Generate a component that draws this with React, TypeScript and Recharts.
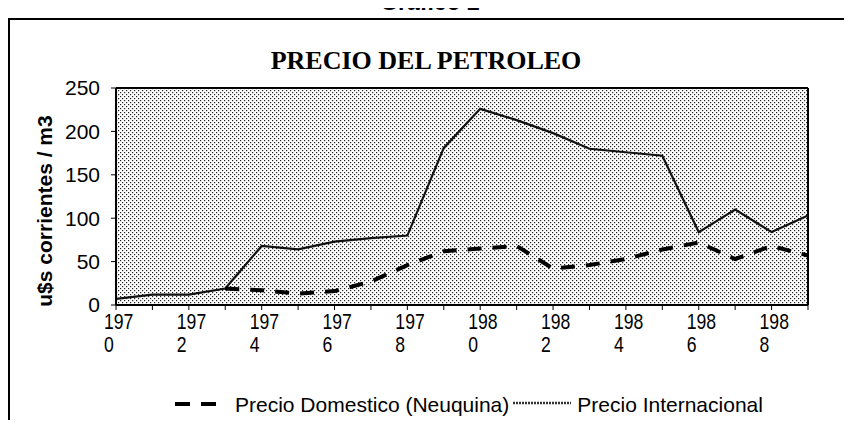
import React from 'react';
import { LineChart, Line, XAxis, YAxis, CartesianGrid, ReferenceLine } from 'recharts';

const years = ['1970','1971','1972','1973','1974','1975','1976','1977','1978','1979','1980','1981','1982','1983','1984','1985','1986','1987','1988','1989'];
const domestic = [null, null, null, 19, 17, 13, 16, 27, 46, 62, 65, 68, 42, 46, 53, 64, 72, 53, 68, 57];
const international = [7, 12, 12, 19, 68, 64, 73, 77, 80, 181, 226, 213, 198, 180, 176, 172, 84, 110, 84, 103];
const yTicks = [0, 50, 100, 150, 200, 250];

const data = years.map((y, i) => ({ year: y, domestic: domestic[i], international: international[i] }));

const SANS = '"Liberation Sans", Arial, sans-serif';

const XTick = (props: any) => {
  const { x, y, payload, index } = props;
  if (index % 2 !== 0) return null;
  const v = String(payload.value);
  return (
    <g transform={`translate(${x - 12},${y})`}>
      <g transform="scale(0.8,1)">
        <text x={0} y={17} textAnchor="start" fontSize={22} fontFamily={SANS} fill="#000">{v.slice(0, 3)}</text>
        <text x={0} y={40} textAnchor="start" fontSize={22} fontFamily={SANS} fill="#000">{v.slice(3)}</text>
      </g>
    </g>
  );
};

export default function App() {
  return (
    <div style={{ position: 'relative', width: 854, height: 428, margin: -8, overflow: 'hidden', background: '#fff' }}>
      <svg style={{ position: 'absolute', left: 0, top: 0 }} width={854} height={20}>
        <text x={430} y={10} textAnchor="middle" fontFamily={SANS} fontWeight="bold" fontSize={23} fill="#000">Gráfico 2</text>
      </svg>
      <div style={{ position: 'absolute', left: 8, top: 18, width: 836, height: 0, borderTop: '2px solid #000' }} />
      <div style={{ position: 'absolute', left: 8, top: 18, width: 0, height: 420, borderLeft: '2px solid #000' }} />
      <div style={{ position: 'absolute', left: 0, width: 852, top: 46, textAlign: 'center', fontFamily: '"Liberation Serif", "Times New Roman", serif', fontWeight: 'bold', fontSize: 26 }}>PRECIO DEL PETROLEO</div>
      <div style={{ position: 'absolute', left: 45, top: 211, transform: 'translate(-50%, -50%) rotate(-90deg)', whiteSpace: 'nowrap', fontFamily: SANS, fontWeight: 'bold', fontSize: 21 }}>u$s corrientes / m3</div>
      <div style={{ position: 'absolute', top: 0, left: 0 }}>
        <LineChart width={854} height={428} data={data} margin={{ top: 88, right: 46, bottom: 0, left: 0 }}>
          <defs>
            <pattern id="stipple" width="4" height="4" patternUnits="userSpaceOnUse">
              <rect width="4" height="4" fill="#ffffff" />
              <rect x="0" y="0" width="1.2" height="1.2" fill="#222" />
              <rect x="2" y="2" width="1.2" height="1.2" fill="#222" />
            </pattern>
          </defs>
          <CartesianGrid fill="url(#stipple)" horizontal={false} vertical={false} />
          <XAxis dataKey="year" interval={0} tick={<XTick />} height={123} tickSize={5}
            axisLine={{ stroke: '#000', strokeWidth: 2 }} tickLine={{ stroke: '#000' }} padding={{ left: 0, right: 0 }} />
          <YAxis domain={[0, 250]} ticks={yTicks} width={116} tickSize={5} tickMargin={11} interval={0}
            axisLine={{ stroke: '#000', strokeWidth: 2 }} tickLine={{ stroke: '#000' }}
            tick={{ fill: '#000', fontSize: 21, fontFamily: SANS }} />
          <ReferenceLine y={250} stroke="#000" strokeWidth={2} />
          <ReferenceLine x="1989" stroke="#000" strokeWidth={2} />
          <Line type="linear" dataKey="international" stroke="#111" strokeWidth={2.2} dot={false} isAnimationActive={false} />
          <Line type="linear" dataKey="domestic" stroke="#000" strokeWidth={4} strokeDasharray="14 11" dot={false} isAnimationActive={false} />
        </LineChart>
      </div>
      <div style={{ position: 'absolute', top: 392, left: 175, height: 26, display: 'flex', alignItems: 'center', whiteSpace: 'nowrap', fontFamily: SANS, fontSize: 21 }}>
        <svg width="42" height="10" style={{ marginRight: 18 }}><line x1="0" y1="4" x2="42" y2="4" stroke="#000" strokeWidth={4} strokeDasharray="15 11" /></svg>
        <span>Precio Domestico (Neuquina)</span>
        <svg width="58" height="10" style={{ margin: '0 6px 0 4px' }}><line x1="0" y1="3" x2="58" y2="3" stroke="#333" strokeWidth={2.5} strokeDasharray="2 1" /></svg>
        <span>Precio Internacional</span>
      </div>
    </div>
  );
}
